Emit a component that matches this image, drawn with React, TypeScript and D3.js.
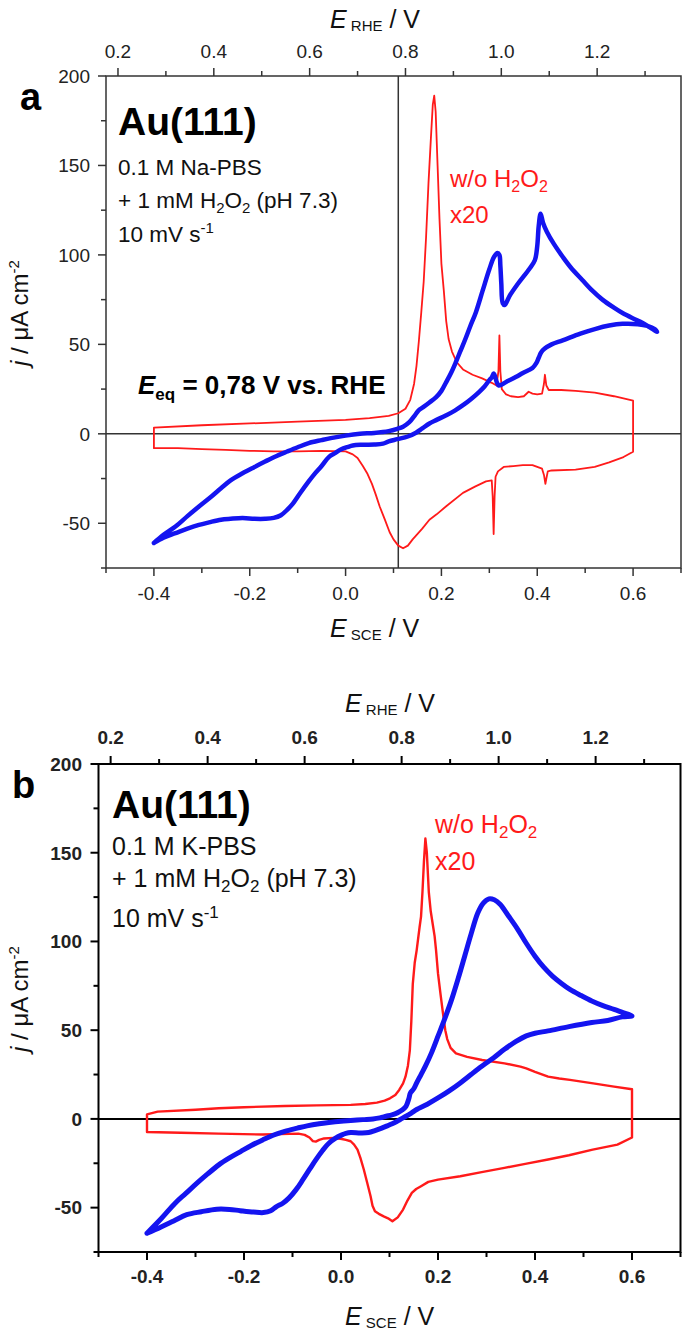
import React from 'react';
import * as d3 from 'd3';

type Pt = [number, number];

// ---------- axis ticks ----------
const SCE_MAJOR = [-0.4, -0.2, 0.0, 0.2, 0.4, 0.6];
const SCE_MINOR = [-0.5, -0.3, -0.1, 0.1, 0.3, 0.5, 0.7];
const RHE_MAJOR = [0.2, 0.4, 0.6, 0.8, 1.0, 1.2];
const RHE_MINOR = [0.3, 0.5, 0.7, 0.9, 1.1, 1.3];
const J_MAJOR = [-50, 0, 50, 100, 150, 200];
const J_MINOR = [-75, -25, 25, 75, 125, 175];
const SCE_DOMAIN: Pt = [-0.5, 0.7];
const J_DOMAIN: Pt = [-75, 200];
const RHE_OFFSET = 0.675;
const E_EQ_SCE = 0.11;

// ---------- panel a : Na-PBS ----------
const redA: Pt[] = [
  [-0.4, 3.5], [-0.3, 4.8], [-0.2, 5.8], [-0.1, 6.8], [0.0, 7.8], [0.05, 8.8], [0.09, 10], [0.11, 11.5],
  [0.125, 14], [0.135, 19], [0.143, 28], [0.148, 38], [0.153, 52], [0.158, 68], [0.163, 85], [0.168, 110],
  [0.173, 140], [0.178, 165], [0.182, 184], [0.185, 189], [0.188, 180], [0.192, 150], [0.196, 120],
  [0.2, 95], [0.205, 80], [0.21, 63], [0.215, 53], [0.222, 46], [0.232, 40], [0.245, 36], [0.265, 33],
  [0.285, 31], [0.305, 28.5], [0.315, 27], [0.319, 35], [0.321, 55], [0.323, 35], [0.326, 25], [0.335, 22],
  [0.345, 21], [0.36, 20.5], [0.372, 21], [0.382, 23.5], [0.39, 22.5], [0.4, 22], [0.41, 22.5], [0.414, 28],
  [0.416, 33], [0.419, 27], [0.424, 24.5], [0.45, 24.5], [0.48, 24], [0.52, 23], [0.56, 21], [0.6, 18.5],
  [0.6, -10], [0.58, -13], [0.55, -16], [0.52, -18.5], [0.48, -20], [0.43, -20.5], [0.422, -21], [0.419, -25],
  [0.417, -28], [0.414, -23], [0.41, -19.5], [0.39, -17.5], [0.37, -17.5], [0.35, -18], [0.33, -18.5],
  [0.318, -21], [0.313, -24], [0.311, -35], [0.309, -56], [0.307, -35], [0.305, -26], [0.293, -26.6],
  [0.27, -29.5], [0.245, -33], [0.21, -40.5], [0.19, -45], [0.175, -48], [0.16, -53], [0.14, -59],
  [0.13, -62.5], [0.12, -64], [0.11, -62.5], [0.1, -59], [0.092, -55], [0.082, -48], [0.071, -40.5],
  [0.063, -34], [0.055, -28], [0.045, -22], [0.036, -18], [0.025, -13.5], [0.015, -11.5], [0.0, -9.8],
  [-0.05, -9.5], [-0.1, -9.8], [-0.15, -9.8], [-0.2, -9.5], [-0.25, -9], [-0.3, -8.5], [-0.35, -8], [-0.4, -8],
];

const blueA: Pt[] = [
  [-0.4, -61], [-0.38, -56.5], [-0.355, -51.8], [-0.33, -46], [-0.306, -40.6], [-0.28, -35], [-0.26, -30.4],
  [-0.24, -26], [-0.215, -22], [-0.19, -18.5], [-0.168, -15.5], [-0.145, -12.5], [-0.122, -9.9], [-0.1, -7.5],
  [-0.077, -5.2], [-0.05, -3.5], [-0.031, -2.4], [0.0, -1], [0.03, 0], [0.06, 0.5], [0.09, 1.5], [0.108, 2.8],
  [0.12, 4], [0.133, 6.5], [0.145, 10.5], [0.152, 13], [0.162, 14.9], [0.175, 17.5], [0.189, 20.5], [0.2, 24],
  [0.21, 28.9], [0.22, 34], [0.23, 40], [0.24, 46.5], [0.25, 53], [0.26, 60], [0.272, 68], [0.286, 80],
  [0.3, 92], [0.31, 99], [0.317, 101], [0.321, 100], [0.323, 94], [0.325, 84], [0.328, 73], [0.332, 72],
  [0.342, 77], [0.36, 84], [0.383, 92], [0.395, 97], [0.4, 105], [0.403, 116], [0.407, 123], [0.412, 118],
  [0.42, 113], [0.435, 106], [0.453, 99], [0.47, 93], [0.494, 86], [0.515, 80], [0.536, 75], [0.56, 70.5],
  [0.578, 67.5], [0.6, 64.5], [0.62, 62], [0.635, 59.5], [0.65, 57],
  [0.645, 58.5], [0.63, 60.3], [0.61, 61.3], [0.578, 61.5], [0.55, 60.5], [0.522, 58.7], [0.49, 56],
  [0.453, 52.2], [0.43, 50], [0.415, 47.5], [0.408, 45.5], [0.403, 42.5], [0.398, 39.5], [0.39, 36.8],
  [0.37, 34], [0.355, 31.7], [0.335, 29], [0.32, 27], [0.316, 28.5], [0.312, 32], [0.309, 33.7],
  [0.305, 31.5], [0.3, 30], [0.29, 26.5], [0.279, 23.5], [0.262, 19.5], [0.245, 16], [0.228, 13],
  [0.21, 10.4], [0.19, 7.8], [0.175, 5.8], [0.16, 3], [0.147, 0.6], [0.13, -1.5], [0.108, -3], [0.09, -4.2],
  [0.078, -5.5], [0.06, -6], [0.032, -6.1], [0.015, -6.5], [0.005, -7.3], [-0.01, -8.8], [-0.022, -10.8],
  [-0.035, -13], [-0.05, -18], [-0.065, -22.5], [-0.077, -26.6], [-0.095, -33.2], [-0.11, -39],
  [-0.122, -42.5], [-0.135, -45.5], [-0.15, -47], [-0.168, -47.5], [-0.19, -47.5], [-0.215, -47.1],
  [-0.24, -47.5], [-0.26, -48], [-0.285, -49.5], [-0.306, -50.9], [-0.33, -53], [-0.355, -55.5],
  [-0.38, -58], [-0.4, -61],
];

// ---------- panel b : K-PBS ----------
const redB: Pt[] = [
  [-0.4, 2.6], [-0.378, 4.1], [-0.3, 5.2], [-0.252, 6], [-0.2, 6.6], [-0.116, 7.3], [-0.05, 7.6], [0.02, 7.9],
  [0.05, 8.4], [0.074, 9.2], [0.09, 10.3], [0.101, 11.6], [0.112, 13.5], [0.12, 16.3], [0.128, 20],
  [0.133, 23.8], [0.138, 30], [0.142, 38.8], [0.145, 55], [0.148, 76], [0.152, 88], [0.156, 95], [0.162, 108],
  [0.165, 114], [0.168, 128], [0.171, 145], [0.174, 158], [0.177, 150], [0.181, 128], [0.185, 117],
  [0.189, 110], [0.193, 103], [0.196, 95], [0.2, 82], [0.205, 70.7], [0.21, 60], [0.215, 50], [0.219, 45],
  [0.226, 40], [0.237, 36.9], [0.26, 35], [0.291, 33.2], [0.337, 31.3], [0.37, 29.5], [0.382, 28.5],
  [0.4, 26.5], [0.427, 23.8], [0.45, 22.8], [0.472, 22], [0.52, 20], [0.563, 18.2], [0.6, 16.7],
  [0.6, -10.5], [0.57, -14.5], [0.519, -17.3], [0.47, -20.5], [0.427, -22.9], [0.38, -25.3], [0.337, -27.6],
  [0.29, -30], [0.246, -32.3], [0.2, -34.2], [0.18, -35.5], [0.165, -37.9], [0.155, -39.5], [0.146, -41.7],
  [0.137, -46], [0.128, -51.1], [0.117, -55.5], [0.106, -57.7], [0.097, -56], [0.088, -54.9], [0.078, -53.5],
  [0.07, -52], [0.065, -49], [0.061, -43.6], [0.054, -36], [0.047, -28.5], [0.04, -22], [0.034, -17.3],
  [0.027, -14.5], [0.02, -12.6], [0.01, -11.8], [0.002, -11.3], [-0.016, -10.7], [-0.035, -11],
  [-0.045, -11.8], [-0.052, -12.8], [-0.058, -12.5], [-0.065, -10.5], [-0.075, -9], [-0.088, -8.3],
  [-0.161, -8.8], [-0.252, -8.3], [-0.33, -7.8], [-0.4, -7.4],
];

const blueB: Pt[] = [
  [-0.4, -64.4], [-0.37, -56], [-0.342, -47.5], [-0.32, -42], [-0.297, -36.2], [-0.275, -31], [-0.252, -25.9],
  [-0.23, -22], [-0.207, -18.4], [-0.185, -15], [-0.161, -11.8], [-0.14, -9.2], [-0.116, -7], [-0.09, -5.2],
  [-0.07, -3.9], [-0.045, -2.7], [-0.025, -2], [0.0, -1.3], [0.02, -0.9], [0.045, -0.4], [0.066, 0],
  [0.08, 0.6], [0.093, 1.5], [0.105, 2.3], [0.116, 3.4], [0.126, 5], [0.134, 7.1], [0.14, 11.5],
  [0.143, 14.6], [0.15, 17], [0.156, 20.3], [0.165, 25], [0.174, 29.7], [0.187, 37.5], [0.2, 46.6],
  [0.214, 56.5], [0.228, 67.2], [0.242, 79.5], [0.255, 91.7], [0.268, 104], [0.282, 116], [0.293, 121.5],
  [0.305, 124], [0.316, 123.5], [0.328, 121], [0.345, 114.5], [0.364, 107], [0.382, 99], [0.4, 91.7],
  [0.418, 85.5], [0.436, 80.5], [0.454, 76.5], [0.472, 73], [0.495, 69.5], [0.517, 66.4], [0.54, 63.8],
  [0.563, 61.7], [0.58, 60], [0.6, 58],
  [0.58, 57.5], [0.55, 55.5], [0.517, 54.3], [0.47, 52], [0.427, 49.6], [0.4, 48.3], [0.382, 46.8],
  [0.36, 43.5], [0.337, 39.2], [0.315, 34.5], [0.291, 29.8], [0.268, 25], [0.246, 20.3], [0.223, 15.8],
  [0.2, 11.8], [0.178, 8.3], [0.156, 5.3], [0.145, 3.3], [0.134, 1.5], [0.122, -0.3], [0.111, -2],
  [0.097, -3.7], [0.084, -5.2], [0.07, -6.6], [0.057, -7.7], [0.04, -7.9], [0.02, -7.7], [0.01, -8.2],
  [0.002, -9], [-0.012, -11], [-0.025, -13.7], [-0.038, -17.8], [-0.052, -23.1], [-0.065, -28.5],
  [-0.079, -34.4], [-0.093, -40], [-0.107, -44.5], [-0.12, -47.5], [-0.133, -49.4], [-0.145, -51.8],
  [-0.16, -52.8], [-0.18, -52.5], [-0.208, -51.7], [-0.23, -51], [-0.256, -50.9], [-0.288, -52.3],
  [-0.318, -54], [-0.345, -57.5], [-0.372, -61], [-0.4, -64.4],
];

const FONT = "'Liberation Sans', Arial, Helvetica, sans-serif";
const RED = '#ff1a1a';
const BLUE = '#1414f0';

type PanelCfg = {
  letter: string;
  left: number; right: number; top: number; bottom: number;
  red: Pt[]; blue: Pt[];
  axisColor: string; axisW: number; tickBold: boolean; tickSize: number;
  redW: number; blueW: number;
  electrolyte: string;
  showEq: boolean;
  txt: {
    letterX: number; letterY: number;
    blockX: number; auY: number; auSize: number; l1Y: number; l2Y: number; l3Y: number; bodySize: number;
    labX: number; lab1Y: number; lab2Y: number; labSize: number;
    topTitleX: number; topTitleY: number; botTitleX: number; botTitleY: number;
    yTitleX: number; yTitleY: number;
    topTickY: number; botTickY: number; leftTickX: number;
  };
};

function Panel({ c }: { c: PanelCfg }) {
  const x = d3.scaleLinear().domain(SCE_DOMAIN).range([c.left, c.right]);
  const xr = d3.scaleLinear().domain([SCE_DOMAIN[0] + RHE_OFFSET, SCE_DOMAIN[1] + RHE_OFFSET]).range([c.left, c.right]);
  const y = d3.scaleLinear().domain(J_DOMAIN).range([c.bottom, c.top]);
  const lineLin = d3.line<Pt>().x(d => x(d[0])).y(d => y(d[1]));
  const lineSmooth = d3.line<Pt>().x(d => x(d[0])).y(d => y(d[1])).curve(d3.curveCatmullRom.alpha(0.5));
  const t = c.txt;
  const tickW = c.tickBold ? 'bold' : 'normal';
  const MAJ = 8, MIN = 5;
  const ac = c.axisColor;
  const sub = Math.round(t.bodySize * 0.68);
  const labSub = Math.round(t.labSize * 0.68);
  return (
    <g fontFamily={FONT}>
      {/* zero line and E_eq line */}
      <line x1={c.left} x2={c.right} y1={y(0)} y2={y(0)} stroke={ac} strokeWidth={c.axisW} />
      {c.showEq && <line x1={x(E_EQ_SCE)} x2={x(E_EQ_SCE)} y1={c.top} y2={c.bottom} stroke={ac} strokeWidth={c.axisW} />}
      {/* curves */}
      <path d={lineLin(c.red) + 'Z'} fill="none" stroke={RED} strokeWidth={c.redW} strokeLinejoin="round" />
      <path d={lineSmooth(c.blue) || ''} fill="none" stroke={BLUE} strokeWidth={c.blueW} strokeLinejoin="round" strokeLinecap="round" />
      {/* frame */}
      <rect x={c.left} y={c.top} width={c.right - c.left} height={c.bottom - c.top} fill="none" stroke={ac} strokeWidth={c.axisW} />
      {/* bottom ticks */}
      {SCE_MAJOR.map(v => (
        <g key={'bm' + v}>
          <line x1={x(v)} x2={x(v)} y1={c.bottom} y2={c.bottom + MAJ} stroke={ac} strokeWidth={c.axisW} />
          <text x={x(v)} y={t.botTickY} textAnchor="middle" fontSize={c.tickSize} fontWeight={tickW} fill="#222">{v.toFixed(1)}</text>
        </g>
      ))}
      {SCE_MINOR.map(v => (
        <line key={'bn' + v} x1={x(v)} x2={x(v)} y1={c.bottom} y2={c.bottom + MIN} stroke={ac} strokeWidth={c.axisW} />
      ))}
      {/* top ticks (RHE) */}
      {RHE_MAJOR.map(v => (
        <g key={'tm' + v}>
          <line x1={xr(v)} x2={xr(v)} y1={c.top} y2={c.top - MAJ} stroke={ac} strokeWidth={c.axisW} />
          <text x={xr(v)} y={t.topTickY} textAnchor="middle" fontSize={c.tickSize} fontWeight={tickW} fill="#222">{v.toFixed(1)}</text>
        </g>
      ))}
      {RHE_MINOR.map(v => (
        <line key={'tn' + v} x1={xr(v)} x2={xr(v)} y1={c.top} y2={c.top - MIN} stroke={ac} strokeWidth={c.axisW} />
      ))}
      {/* left ticks */}
      {J_MAJOR.map(v => (
        <g key={'lm' + v}>
          <line x1={c.left} x2={c.left - MAJ} y1={y(v)} y2={y(v)} stroke={ac} strokeWidth={c.axisW} />
          <text x={t.leftTickX} y={y(v)} dy="0.36em" textAnchor="end" fontSize={c.tickSize} fontWeight={tickW} fill="#222">{v}</text>
        </g>
      ))}
      {J_MINOR.map(v => (
        <line key={'ln' + v} x1={c.left} x2={c.left - MIN} y1={y(v)} y2={y(v)} stroke={ac} strokeWidth={c.axisW} />
      ))}
      {/* axis titles */}
      <text x={t.topTitleX} y={t.topTitleY} fontSize={25} fill="#111">
        <tspan fontStyle="italic">E</tspan>
        <tspan fontSize={15} dy={3}> RHE</tspan>
        <tspan dy={-3}> / V</tspan>
      </text>
      <text x={t.botTitleX} y={t.botTitleY} fontSize={25} fill="#111">
        <tspan fontStyle="italic">E</tspan>
        <tspan fontSize={15} dy={3}> SCE</tspan>
        <tspan dy={-3}> / V</tspan>
      </text>
      <text transform={`translate(${t.yTitleX},${t.yTitleY}) rotate(-90)`} textAnchor="middle" fontSize={24} fill="#111">
        <tspan fontStyle="italic">j</tspan>
        <tspan> / μA cm</tspan>
        <tspan fontSize={15} dy={-9}>-2</tspan>
      </text>
      {/* panel letter */}
      <text x={t.letterX} y={t.letterY} fontSize={38} fontWeight="bold" fill="#000">{c.letter}</text>
      {/* info block */}
      <text x={t.blockX} y={t.auY} fontSize={t.auSize} fontWeight="bold" fill="#000">Au(111)</text>
      <text x={t.blockX} y={t.l1Y} fontSize={t.bodySize} fill="#111">{c.electrolyte}</text>
      <text x={t.blockX} y={t.l2Y} fontSize={t.bodySize} fill="#111">
        + 1 mM H<tspan fontSize={sub} dy={5}>2</tspan><tspan dy={-5}>O</tspan><tspan fontSize={sub} dy={5}>2</tspan><tspan dy={-5}> (pH 7.3)</tspan>
      </text>
      <text x={t.blockX} y={t.l3Y} fontSize={t.bodySize} fill="#111">
        10 mV s<tspan fontSize={sub} dy={-9}>-1</tspan>
      </text>
      {/* red label */}
      <text x={t.labX} y={t.lab1Y} fontSize={t.labSize} fill={RED}>
        w/o H<tspan fontSize={labSub} dy={5}>2</tspan><tspan dy={-5}>O</tspan><tspan fontSize={labSub} dy={5}>2</tspan>
      </text>
      <text x={t.labX} y={t.lab2Y} fontSize={t.labSize} fill={RED}>x20</text>
      {c.showEq && (
        <text x={138} y={394} fontSize={26} fontWeight="bold" fill="#000">
          <tspan fontStyle="italic">E</tspan><tspan fontSize={17} dy={6}>eq</tspan><tspan dy={-6}> = 0,78 V vs. RHE</tspan>
        </text>
      )}
    </g>
  );
}

const panelA: PanelCfg = {
  letter: 'a', left: 106, right: 681, top: 76, bottom: 568,
  red: redA, blue: blueA, axisColor: '#333', axisW: 1.5, tickBold: false, tickSize: 19,
  redW: 1.8, blueW: 4.5, electrolyte: '0.1 M Na-PBS', showEq: true,
  txt: {
    letterX: 20, letterY: 110, blockX: 118, auY: 135, auSize: 39, l1Y: 175, l2Y: 208, l3Y: 242, bodySize: 22.5,
    labX: 450, lab1Y: 187, lab2Y: 223, labSize: 24,
    topTitleX: 330, topTitleY: 28, botTitleX: 330, botTitleY: 637, yTitleX: 28, yTitleY: 313,
    topTickY: 58, botTickY: 600, leftTickX: 90,
  },
};

const panelB: PanelCfg = {
  letter: 'b', left: 98.5, right: 680.5, top: 764, bottom: 1252,
  red: redB, blue: blueB, axisColor: '#000', axisW: 2, tickBold: true, tickSize: 19,
  redW: 2.4, blueW: 5, electrolyte: '0.1 M K-PBS', showEq: false,
  txt: {
    letterX: 12, letterY: 798, blockX: 112, auY: 818, auSize: 39, l1Y: 855, l2Y: 887, l3Y: 927, bodySize: 25,
    labX: 435, lab1Y: 833, lab2Y: 870, labSize: 25,
    topTitleX: 345, topTitleY: 712, botTitleX: 345, botTitleY: 1325, yTitleX: 28, yTitleY: 999,
    topTickY: 744, botTickY: 1283, leftTickX: 82,
  },
};

export default function App() {
  return (
    <svg width={685} height={1330} viewBox="0 0 685 1330"
      style={{ position: 'absolute', left: 0, top: 0, background: '#fff' }}>
      <rect width={685} height={1330} fill="#fff" />
      <Panel c={panelA} />
      <Panel c={panelB} />
    </svg>
  );
}
